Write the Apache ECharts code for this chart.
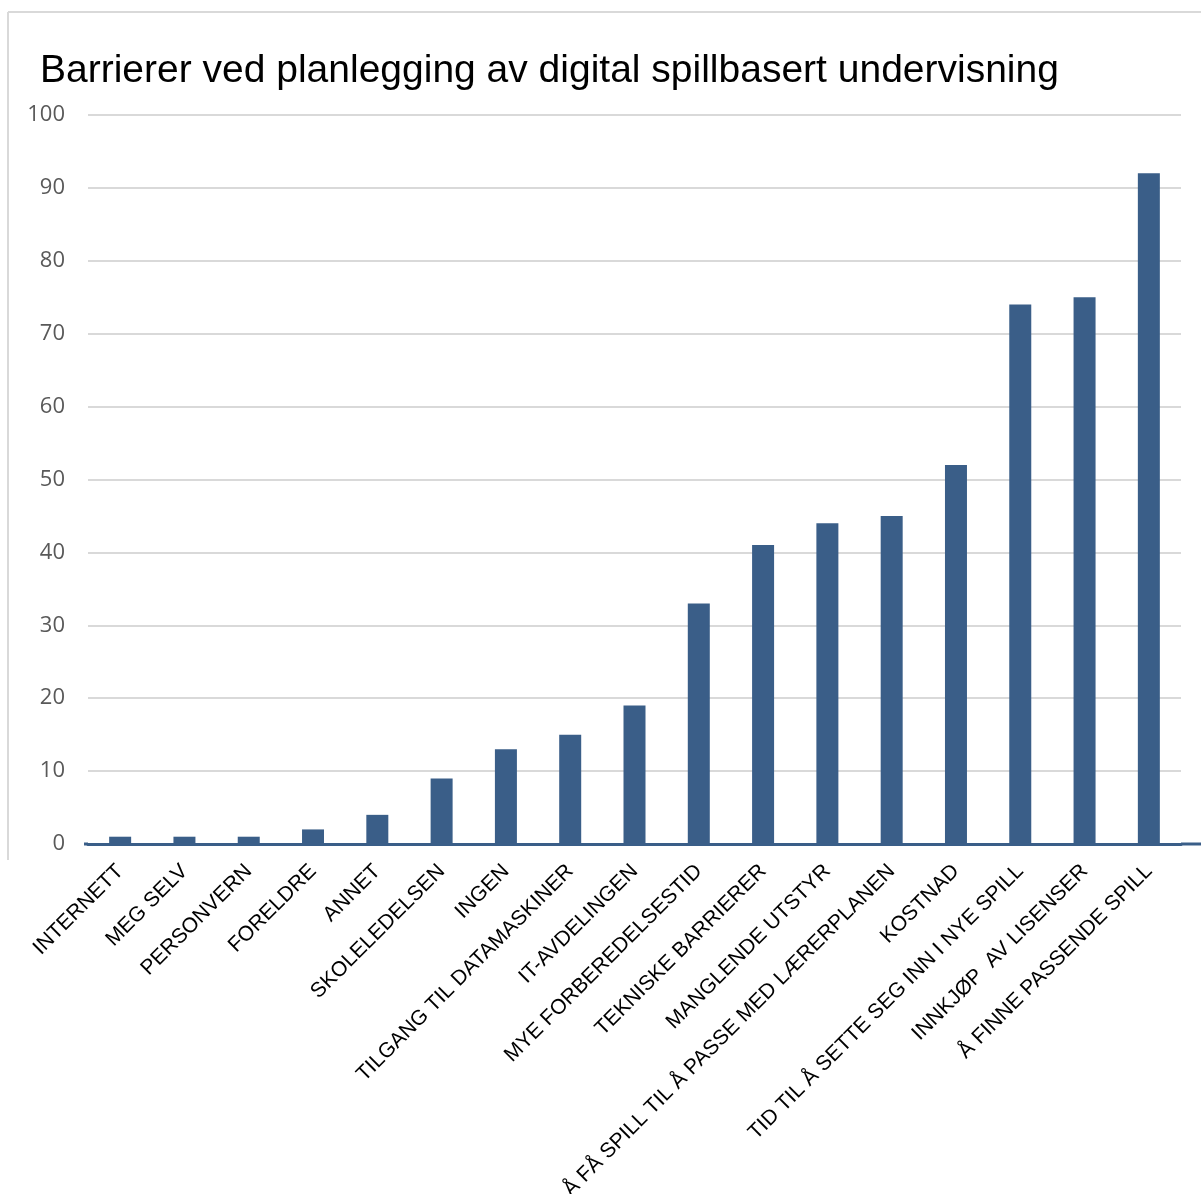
<!DOCTYPE html>
<html>
<head>
<meta charset="utf-8">
<script src="https://cdn.jsdelivr.net/npm/echarts@6/dist/echarts.min.js"></script>
<style>
  html, body { margin: 0; padding: 0; background: #ffffff; }
  #chart { width: 1201px; height: 1194px; }
</style>
</head>
<body>
<div id="chart"></div>
<script>
// Barrier categories (sorted ascending by number of answers)
const categories = [
  'INTERNETT',
  'MEG SELV',
  'PERSONVERN',
  'FORELDRE',
  'ANNET',
  'SKOLELEDELSEN',
  'INGEN',
  'TILGANG TIL DATAMASKINER',
  'IT-AVDELINGEN',
  'MYE FORBEREDELSESTID',
  'TEKNISKE BARRIERER',
  'MANGLENDE UTSTYR',
  'Å FÅ SPILL TIL Å PASSE MED LÆRERPLANEN',
  'KOSTNAD',
  'TID TIL Å SETTE SEG INN I NYE SPILL',
  'INNKJØP  AV LISENSER',
  'Å FINNE PASSENDE SPILL'
];

// Number of respondents per barrier
const counts = [1, 1, 1, 2, 4, 9, 13, 15, 19, 33, 41, 44, 45, 52, 74, 75, 92];

// Value axis scale
const yMin = 0;
const yMax = 100;
const yStep = 10;

const barColor = '#3a5e88';

const chart = echarts.init(document.getElementById('chart'));

chart.setOption({
  animation: false,
  backgroundColor: '#ffffff',
  title: {
    text: 'Barrierer ved planlegging av digital spillbasert undervisning',
    left: 35,
    top: 47,
    textStyle: {
      fontFamily: 'Liberation Sans, Arial, sans-serif',
      fontSize: 39,
      fontWeight: 'normal',
      color: '#000000'
    }
  },
  grid: {
    left: 88,
    right: 20,
    top: 115,
    bottom: 350,
    containLabel: false,
    outerBoundsMode: 'none'
  },
  xAxis: {
    type: 'category',
    data: categories,
    axisTick: { show: false },
    axisLine: { show: true, lineStyle: { color: barColor, width: 3 } },
    axisLabel: {
      interval: 0,
      rotate: 45,
      margin: 24,
      fontFamily: 'Liberation Sans, Arial, sans-serif',
      fontSize: 21,
      color: '#000000'
    }
  },
  yAxis: {
    type: 'value',
    min: yMin,
    max: yMax,
    interval: yStep,
    axisLine: { show: false },
    axisTick: { show: false },
    axisLabel: {
      margin: 23,
      fontFamily: 'Open Sans, sans-serif',
      fontSize: 22,
      color: '#595959'
    },
    splitLine: { lineStyle: { color: '#d9d9d9', width: 2 } }
  },
  series: [{
    type: 'bar',
    data: counts,
    barWidth: 22,
    itemStyle: { color: barColor }
  }],
  graphic: [
    // light frame along the top and left edge
    { type: 'line', shape: { x1: 8, y1: 12, x2: 1201, y2: 12 }, style: { stroke: '#d9d9d9', lineWidth: 2 } },
    { type: 'line', shape: { x1: 8, y1: 12, x2: 8, y2: 860 }, style: { stroke: '#d9d9d9', lineWidth: 2 } },
    // axis baseline continues to the right edge
    { type: 'line', shape: { x1: 1181, y1: 844, x2: 1201, y2: 844 }, style: { stroke: barColor, lineWidth: 3 } },
    { type: 'line', shape: { x1: 84, y1: 844, x2: 88, y2: 844 }, style: { stroke: barColor, lineWidth: 3 } }
  ]
});
</script>
</body>
</html>
